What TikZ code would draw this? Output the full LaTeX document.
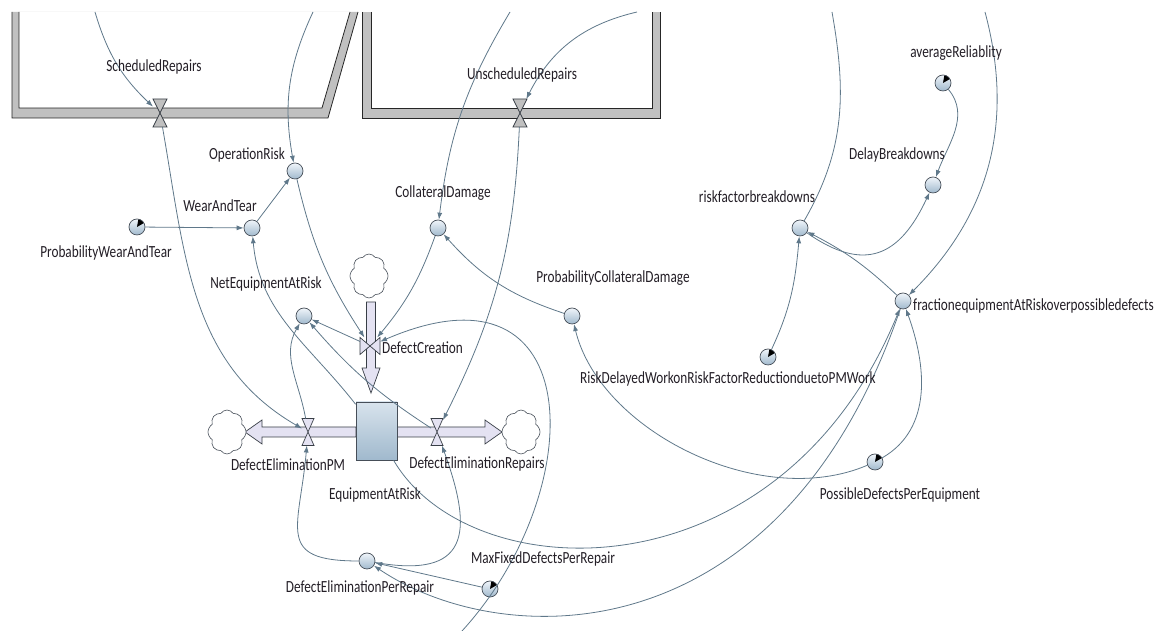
\documentclass[tikz,border=0pt]{standalone}
\usepackage{fontspec}
\setmainfont{Carlito}[FakeStretch=0.78]
\usetikzlibrary{arrows.meta,shapes.symbols}
\definecolor{linkcol}{RGB}{95,120,138}
\definecolor{auxtop}{RGB}{240,245,250}
\definecolor{auxbot}{RGB}{160,185,205}
\definecolor{rimcol}{RGB}{70,78,88}
\definecolor{pipefill}{RGB}{228,226,242}
\definecolor{wallgray}{RGB}{192,192,192}
\definecolor{txtcol}{RGB}{35,30,38}
\tikzset{
  auxvar/.style={circle, draw=rimcol, line width=0.7pt, minimum size=16pt, inner sep=0pt, top color=auxtop, bottom color=auxbot},
  constvar/.style={auxvar, path picture={\fill[black] (path picture bounding box.center) -- ++(30:9pt) arc[start angle=30, end angle=80, radius=9pt] -- cycle;}},
  stockbox/.style={draw=rimcol, line width=0.8pt, minimum width=41pt, minimum height=58pt, inner sep=0pt, top color=auxtop!70!auxbot, bottom color=auxbot},
  valvebox/.style={inner sep=0pt, outer sep=0pt},
  valveline/.style={draw=rimcol!80!black, line width=0.7pt},
  cloudy/.style={cloud, cloud puffs=8, cloud puff arc=115, cloud ignores aspect, draw=rimcol, fill=white, line width=0.6pt, minimum width=38pt, minimum height=44pt, inner sep=0pt},
  pipe/.style={draw=rimcol!80!black, fill=pipefill, line width=0.7pt, line join=miter},
  wall/.style={draw=black!85, line width=0.8pt},
  lbl/.style={font=\fontsize{17}{19}\selectfont, text=txtcol, inner sep=0pt},
  link/.style={draw=linkcol, line width=0.8pt, -{Latex[length=7pt,width=5pt]}}
}
\begin{document}
\begin{tikzpicture}[x=1pt, y=1pt]
            \useasboundingbox (0,0) rectangle (1165,631);
            \fill[wallgray] (12,619) -- (12,513) -- (328,513) -- (358,619) -- cycle;
            \fill[white] (19,619) -- (19,523) -- (322,523) -- (350,619) -- cycle;
            \draw[wall] (12,619) -- (12,513) -- (328,513) -- (358,619);
            \draw[wall] (19,619) -- (19,523) -- (322,523) -- (350,619);
            \fill[wallgray] (362,619) -- (362,513) -- (660,513) -- (660,619) -- cycle;
            \fill[white] (371,619) -- (371,523) -- (652,523) -- (652,619) -- cycle;
            \draw[wall] (362,619) -- (362,513) -- (660,513) -- (660,619);
            \draw[wall] (371,619) -- (371,523) -- (652,523) -- (652,619);

            \draw[pipe] (366.5,329) -- (366.5,263) -- (362,263) -- (371,238) -- (380,263) -- (375.5,263) -- (375.5,329) -- cycle;
            \draw[pipe] (356,204) -- (262,204) -- (262,211) -- (245,199) -- (262,187) -- (262,194) -- (356,194) -- cycle;
            \draw[pipe] (397,204) -- (485,204) -- (485,211) -- (502,199) -- (485,187) -- (485,194) -- (397,194) -- cycle;

            \node[auxvar] (0) at (295,460) {};
            \node[auxvar] (1) at (252,403) {};
            \node[constvar] (2) at (137,404) {};
            \node[auxvar] (3) at (438,403) {};
            \node[auxvar] (4) at (304,315) {};
            \node[auxvar] (5) at (572,315) {};
            \node[auxvar] (6) at (800,403) {};
            \node[auxvar] (7) at (933,446) {};
            \node[constvar] (8) at (943,548) {};
            \node[auxvar] (9) at (903,330) {};
            \node[constvar] (10) at (768,274) {};
            \node[constvar] (11) at (875,169) {};
            \node[auxvar] (12) at (367,70) {};
            \node[constvar] (13) at (490,42) {};
            \node[stockbox] (14) at (376.5,200) {};
            \node[valvebox, minimum width=14pt, minimum height=28pt] (15) at (160,518) {};
            \node[valvebox, minimum width=14pt, minimum height=28pt] (16) at (520,518) {};
            \node[valvebox, minimum width=20pt, minimum height=17pt] (17) at (370,285) {};
            \node[valvebox, minimum width=12pt, minimum height=27pt] (18) at (308,199) {};
            \node[valvebox, minimum width=12pt, minimum height=27pt] (19) at (437,199) {};
            \node[cloudy] (20) at (369,355) {};
            \node[cloudy] (21) at (227,199) {};
            \node[cloudy] (22) at (521,199) {};
            \coordinate (23) at (95,619);
            \coordinate (24) at (313,619);
            \coordinate (25) at (510,619);
            \coordinate (26) at (637,619);
            \coordinate (27) at (832,619);
            \coordinate (28) at (985,619);
            \coordinate (29) at (462,0);

            \foreach \v in {15,16}
                \draw[valveline, fill=wallgray] (\v.north west) -- (\v.north east) -- (\v.south west) -- (\v.south east) -- cycle;
            \foreach \v in {18,19}
                \draw[valveline, fill=pipefill] (\v.north west) -- (\v.north east) -- (\v.south west) -- (\v.south east) -- cycle;
            \draw[valveline, fill=pipefill] (17.north west) -- (17.south west) -- (17.north east) -- (17.south east) -- cycle;

            \draw[link] (23) to[bend right=15] (15);
            \draw[link] (24) to[out=-115, in=100] (0);
            \draw[link] (25) to[bend right=12] (3);
            \draw[link] (26) to[bend right=25] (16);
            \draw[link] (15) to[out=-80, in=150] (18);
            \draw[link] (16) to[bend left=12] (19);
            \draw[link] (2) -- (1);
            \draw[link] (1) -- (0);
            \draw[link] (0) to[bend right=10] (17);
            \draw[link] (3) to[bend left=10] (17);
            \draw[link] (5) to[bend left=15] (3);
            \draw[link] (17) -- (4);
            \draw[link] (19) to[bend left=8] (4);
            \draw[link] (18) to[out=100, in=-120] (4);
            \draw[link] (14) to[out=128, in=-85] (1);
            \draw[link] (29) .. controls (590,140) and (590,380) .. (17);
            \draw[link] (14) .. controls (470,40) and (780,30) .. (9);
            \draw[link] (9) .. controls (780,-30) and (500,-20) .. (12);
            \draw[link] (11) to[out=30, in=-70] (9);
            \draw[link] (11) .. controls (760,120) and (600,200) .. (5);
            \draw[link] (9) to[bend right=8] (6);
            \draw[link] (6) to[out=-35, in=-115, looseness=1.4] (7);
            \draw[link] (8) to[out=-50, in=70] (7);
            \draw[link] (10) to[out=65, in=-95] (6);
            \draw[link, -] (6) to[out=60, in=-80] (27);
            \draw[link] (28) to[out=-75, in=45] (9);
            \draw[link] (12) to[out=180, in=-95, looseness=1.7] (18);
            \draw[link] (12) to[out=-10, in=-70, looseness=1.8] (19);
            \draw[link] (13) -- (12);

            \node[lbl] (30) at (154,564) {ScheduledRepairs};
            \node[lbl] (31) at (522,556) {UnscheduledRepairs};
            \node[lbl] (32) at (247,476) {OperationRisk};
            \node[lbl] (33) at (220,425) {WearAndTear};
            \node[lbl] (34) at (106,378) {ProbabilityWearAndTear};
            \node[lbl] (35) at (443,438) {CollateralDamage};
            \node[lbl] (36) at (266,347) {NetEquipmentAtRisk};
            \node[lbl, anchor=west] (37) at (382,283) {DefectCreation};
            \node[lbl] (38) at (613,353) {ProbabilityCollateralDamage};
            \node[lbl] (39) at (757,434) {riskfactorbreakdowns};
            \node[lbl] (40) at (897,476) {DelayBreakdowns};
            \node[lbl] (41) at (956,578) {averageReliablity};
            \node[lbl, anchor=west] (42) at (913,325) {fractionequipmentAtRiskoverpossibledefects};
            \node[lbl] (43) at (728,252) {RiskDelayedWorkonRiskFactorReductionduetoPMWork};
            \node[lbl] (44) at (900,136) {PossibleDefectsPerEquipment};
            \node[lbl] (45) at (288,166) {DefectEliminationPM};
            \node[lbl] (46) at (477,167) {DefectEliminationRepairs};
            \node[lbl] (47) at (375,136) {EquipmentAtRisk};
            \node[lbl] (48) at (360,43) {DefectEliminationPerRepair};
            \node[lbl] (49) at (543,72) {MaxFixedDefectsPerRepair};
\end{tikzpicture}
\end{document}
